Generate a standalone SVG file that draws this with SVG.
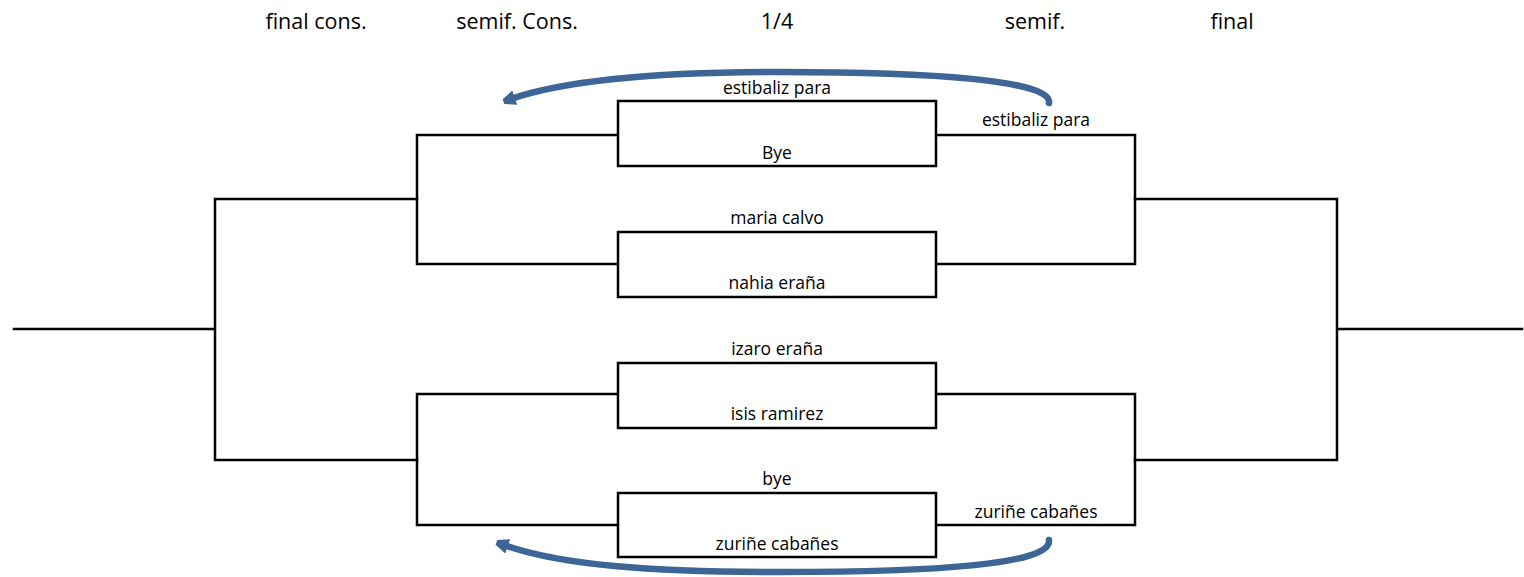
<svg xmlns="http://www.w3.org/2000/svg" width="1524" height="577" viewBox="0 0 1524 577">
<defs>
<style>
.ln{fill:none;stroke:#000;stroke-width:2.5;stroke-linecap:square}
.bx{fill:#fff;stroke:#000;stroke-width:2.5}
.t{font-family:"Open Sans","Liberation Sans",sans-serif;font-size:17.5px;fill:#000;text-anchor:middle}
.h{font-family:"Open Sans","Liberation Sans",sans-serif;font-size:21.5px;fill:#000;text-anchor:middle}
.arc{fill:none;stroke:#3d6596;stroke-width:6.5;stroke-linecap:round}
</style>
<marker id="ah" markerWidth="18" markerHeight="18" refX="4" refY="9" orient="auto" markerUnits="userSpaceOnUse">
<path d="M0,1.5 L12,6.5 L12,11.5 L0,16.5 z" fill="#3d6596"/>
</marker>
</defs>
<g id="headers">
<text class="h" x="316" y="29">final cons.</text>
<text class="h" x="517" y="29">semif. Cons.</text>
<text class="h" x="777" y="29">1/4</text>
<text class="h" x="1035" y="29">semif.</text>
<text class="h" x="1232" y="29">final</text>
</g>
<g id="connectors">
<path class="ln" d="M14,329 H215 M215,199 V460 M215,199 H417 M215,460 H417"/>
<path class="ln" d="M417,135 V264 M417,135 H618 M417,264 H618"/>
<path class="ln" d="M417,394 V525 M417,394 H618 M417,525 H618"/>
<path class="ln" d="M936,135 H1135 V264 H936"/>
<path class="ln" d="M936,394 H1135 V525 H936"/>
<path class="ln" d="M1135,199 H1337 V460 H1135 M1337,329 H1522"/>
<path class="arc" d="M1049,103 C1052,80 930,72 780,72 C650,72 560,82 511,99" marker-end="url(#ah)"/>
<path class="arc" d="M1049,540 C1052,565 930,572 780,572 C650,572 560,565 504,545" marker-end="url(#ah)"/>
</g>
<g id="match1">
<rect class="bx" x="618" y="101" width="318" height="65"/>
<text class="t" x="777" y="94">estibaliz para</text>
<text class="t" x="777" y="159">Bye</text>
</g>
<g id="match2">
<rect class="bx" x="618" y="232" width="318" height="65"/>
<text class="t" x="777" y="224">maria calvo</text>
<text class="t" x="777" y="289">nahia eraña</text>
</g>
<g id="match3">
<rect class="bx" x="618" y="363" width="318" height="65"/>
<text class="t" x="777" y="355">izaro eraña</text>
<text class="t" x="777" y="420">isis ramirez</text>
</g>
<g id="match4">
<rect class="bx" x="618" y="493" width="318" height="64"/>
<text class="t" x="777" y="485">bye</text>
<text class="t" x="777" y="550">zuriñe cabañes</text>
</g>
<g id="winners">
<text class="t" x="1036" y="126">estibaliz para</text>
<text class="t" x="1036" y="518">zuriñe cabañes</text>
</g>
</svg>
